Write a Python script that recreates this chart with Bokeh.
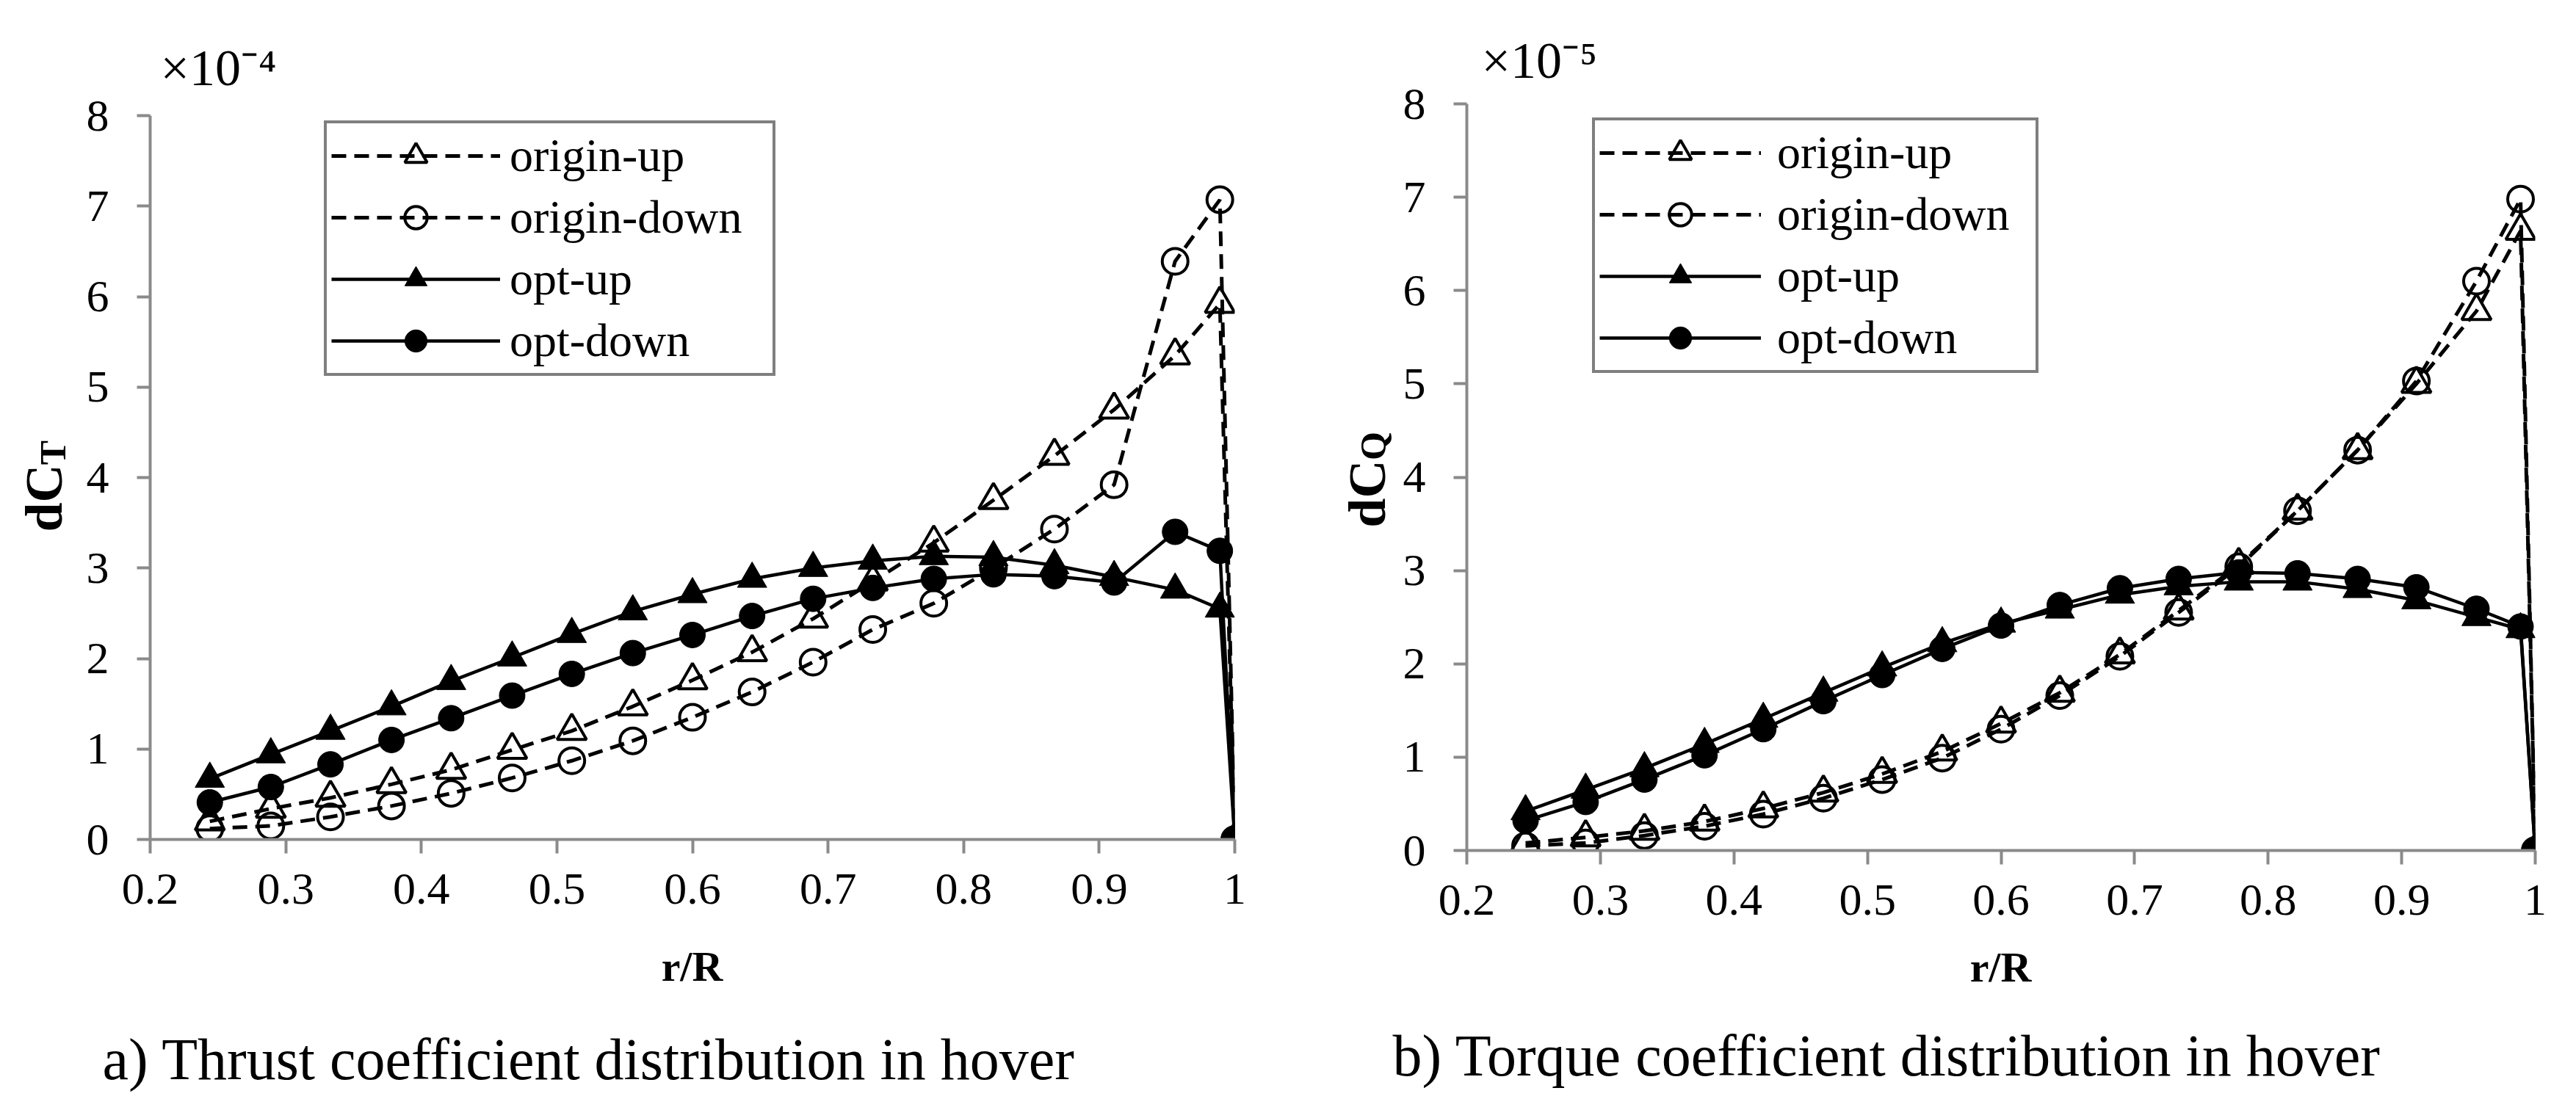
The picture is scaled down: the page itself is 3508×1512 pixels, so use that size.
import math
from bokeh.plotting import figure
from bokeh.layouts import row, column
from bokeh.models import Label, FixedTicker, Range1d, Title
from bokeh.embed import file_html
from bokeh.resources import INLINE

# ---------------- data ----------------
r_R = [0.244, 0.289, 0.333, 0.378, 0.422, 0.467, 0.511, 0.556, 0.600, 0.644,
       0.689, 0.733, 0.778, 0.822, 0.867, 0.911, 0.956, 0.989, 1.000]

# thrust coefficient dC_T (x 1e-4)
ct_origin_up = [0.20, 0.34, 0.46, 0.61, 0.77, 0.99, 1.20, 1.47, 1.76, 2.07,
                2.44, 2.85, 3.28, 3.75, 4.24, 4.75, 5.35, 5.92, 0.0]
ct_origin_down = [0.12, 0.15, 0.25, 0.37, 0.51, 0.68, 0.87, 1.09, 1.35, 1.63,
                  1.96, 2.32, 2.61, 3.00, 3.43, 3.92, 6.39, 7.07, 0.0]
ct_opt_up = [0.67, 0.94, 1.20, 1.47, 1.75, 2.01, 2.27, 2.52, 2.71, 2.88,
             3.00, 3.08, 3.13, 3.12, 3.03, 2.90, 2.76, 2.55, 0.0]
ct_opt_down = [0.41, 0.58, 0.83, 1.10, 1.34, 1.59, 1.83, 2.06, 2.26, 2.47,
               2.66, 2.78, 2.88, 2.93, 2.91, 2.84, 3.40, 3.19, 0.0]

# torque coefficient dC_Q (x 1e-5)
cq_origin_up = [0.08, 0.14, 0.21, 0.31, 0.45, 0.62, 0.82, 1.06, 1.36, 1.69,
                2.10, 2.57, 3.06, 3.64, 4.29, 5.00, 5.78, 6.64, 0.0]
cq_origin_down = [0.05, 0.08, 0.16, 0.26, 0.39, 0.56, 0.76, 0.99, 1.30, 1.66,
                  2.08, 2.55, 3.04, 3.64, 4.29, 5.03, 6.10, 6.98, 0.0]
cq_opt_up = [0.42, 0.65, 0.88, 1.14, 1.41, 1.69, 1.96, 2.22, 2.43, 2.58,
             2.74, 2.83, 2.88, 2.88, 2.80, 2.68, 2.50, 2.37, 0.0]
cq_opt_down = [0.32, 0.52, 0.76, 1.02, 1.30, 1.60, 1.88, 2.16, 2.41, 2.63,
               2.81, 2.91, 2.98, 2.97, 2.91, 2.82, 2.59, 2.40, 0.0]

series_names = ["origin-up", "origin-down", "opt-up", "opt-down"]
x_ticks = [0.2, 0.3, 0.4, 0.5, 0.6, 0.7, 0.8, 0.9, 1.0]
x_tick_labels = ["0.2", "0.3", "0.4", "0.5", "0.6", "0.7", "0.8", "0.9", "1"]
y_ticks = [0, 1, 2, 3, 4, 5, 6, 7, 8]
y_tick_labels = ["0", "1", "2", "3", "4", "5", "6", "7", "8"]
x_label = "r/R"
scale_a = "\u00d710\u207b\u2074"
scale_b = "\u00d710\u207b\u2075"
caption_a = "a) Thrust coefficient distribution in hover"
caption_b = "b) Torque coefficient distribution in hover"

FONT = "Liberation Serif"
AXIS_GRAY = "#8a8a8a"
SHIFT = 28  # observed baseline offset of Label text in this renderer

styles = [("triangle", False, True), ("circle", False, True),
          ("triangle", True, False), ("circle", True, False)]


def add_text(f, texts):
    for (txt, x, y, size, style, align, angle) in texts:
        f.add_layout(Label(x=x, y=y, text=txt, text_font=FONT,
                           text_font_size=f"{size}px", text_font_style=style,
                           text_align=align, text_baseline="alphabetic",
                           angle=angle, text_color="black"))


def text_fig(w, h, x_range, y_range, texts, bt=0, bb=0):
    f = figure(width=w, height=h, x_range=x_range, y_range=y_range,
               output_backend="svg", toolbar_location=None, title=None,
               min_border_left=0, min_border_right=0,
               min_border_top=bt, min_border_bottom=bb,
               x_axis_location=None, y_axis_location=None,
               background_fill_color="white", border_fill_color="white")
    f.outline_line_color = None
    f.grid.visible = False
    add_text(f, texts)
    return f


def plot_fig(series, w, h, bl, bt, fw, fh, ystandoff, legend_cfg, scale_cfg):
    p = figure(width=w, height=h,
               x_range=Range1d(0.2, 1.0), y_range=Range1d(0, 8),
               output_backend="svg", toolbar_location=None, title=None,
               min_border_left=bl, min_border_top=bt,
               min_border_right=w - bl - fw, min_border_bottom=h - bt - fh,
               background_fill_color="white", border_fill_color="white")
    p.outline_line_color = None
    p.grid.visible = False

    for name, vals, (mk, filled, dashed) in zip(series_names, series, styles):
        p.line(r_R, vals, line_color="black",
               line_width=5 if dashed else 4.5,
               line_dash="20 11" if dashed else "solid", legend_label=name)
    for name, vals, (mk, filled, dashed) in zip(series_names, series, styles):
        size = 40 if mk == "triangle" else 35
        p.scatter(r_R, vals, marker=mk, size=size,
                  line_color="black", line_width=1 if filled else 4,
                  fill_color="black" if filled else None,
                  fill_alpha=1.0 if filled else 0.0, legend_label=name)

    for ax in (p.xaxis[0], p.yaxis[0]):
        ax.axis_line_color = AXIS_GRAY
        ax.axis_line_width = 4
        ax.major_tick_line_color = AXIS_GRAY
        ax.major_tick_line_width = 4
        ax.major_tick_in = 0
        ax.minor_tick_line_color = None
        ax.major_label_text_font = FONT
        ax.major_label_text_font_size = "62px"
        ax.major_label_text_color = "black"
    p.xaxis.ticker = FixedTicker(ticks=x_ticks)
    p.xaxis.major_label_overrides = dict(zip(x_ticks, x_tick_labels))
    p.xaxis.major_tick_out = 19
    p.xaxis.major_label_standoff = 28
    p.yaxis.ticker = FixedTicker(ticks=y_ticks)
    p.yaxis.major_label_overrides = dict(zip(y_ticks, y_tick_labels))
    p.yaxis.major_tick_out = 18
    p.yaxis.major_label_standoff = ystandoff

    lx, ltop, pad, gw, standoff, spacing, ih, lw = legend_cfg
    H = 2 * pad + 4 * ih + 3 * spacing
    lg = p.legend[0]
    lg.location = (lx, fh - (ltop + H))
    lg.padding = pad
    lg.spacing = spacing
    lg.margin = 0
    lg.glyph_width = gw
    lg.glyph_height = ih
    lg.label_height = ih
    lg.label_width = lw
    lg.label_standoff = standoff
    lg.label_text_font = FONT
    lg.label_text_font_size = "64px"
    lg.label_text_color = "black"
    lg.border_line_color = "black"
    lg.border_line_width = 4
    lg.background_fill_alpha = 1.0

    txt, off, so = scale_cfg
    p.add_layout(Title(text=txt, align="left", offset=off,
                       vertical_align="bottom", standoff=so,
                       text_font=FONT, text_font_size="70px",
                       text_font_style="normal", text_color="black"), "above")
    return p


TOTAL_H = 1504

# ---------------- left half (a) ----------------
MID_A = 1265
p1 = plot_fig([ct_origin_up, ct_origin_down, ct_opt_up, ct_opt_down],
              1644, MID_A, 94, 157, 1477, 986, 38,
              (237, 15, 6, 230, 13, 8, 76, 352), (scale_a, 14, 54))
ylab_a = text_fig(110, MID_A, Range1d(0, 110), p1.y_range, [
    ("dC", 87 - SHIFT, 3.40, 72, "bold", "left", math.pi / 2),
    ("T", 99 - SHIFT, 4.14, 50, "bold", "left", math.pi / 2),
], bt=157, bb=MID_A - 157 - 986)
cap_a = text_fig(1754, TOTAL_H - MID_A, Range1d(0, 1754),
                 Range1d(TOTAL_H - MID_A, 0), [
    (x_label, 942, 1344 - MID_A - SHIFT, 58, "bold", "center", 0),
    (caption_a, 139, 1470 - MID_A - SHIFT, 80, "normal", "left", 0),
])
half_a = column(row(ylab_a, p1, spacing=0), cap_a, spacing=0)

# ---------------- right half (b) ----------------
MID_B = 1280
p2 = plot_fig([cq_origin_up, cq_origin_down, cq_opt_up, cq_opt_down],
              1593, MID_B, 89, 141, 1456, 1017, 38,
              (171, 27, 6, 220, 22, 8, 76, 346), (scale_b, 20, 42))
ylab_b = text_fig(153, MID_B, Range1d(0, 153), p2.y_range, [
    ("dC", 135 - SHIFT, 3.46, 72, "bold", "left", math.pi / 2),
    ("Q", 143 - SHIFT, 4.18, 50, "bold", "left", math.pi / 2),
], bt=141, bb=MID_B - 141 - 1017)
cap_b = text_fig(1746, TOTAL_H - MID_B, Range1d(0, 1746),
                 Range1d(TOTAL_H - MID_B, 0), [
    (x_label, 970, 1345 - MID_B - SHIFT, 58, "bold", "center", 0),
    (caption_b, 142, 1465 - MID_B - SHIFT, 80, "normal", "left", 0),
])
half_b = column(row(ylab_b, p2, spacing=0), cap_b, spacing=0)

layout = row(half_a, half_b, spacing=0)
open("out.html", "w").write(file_html(layout, INLINE))
